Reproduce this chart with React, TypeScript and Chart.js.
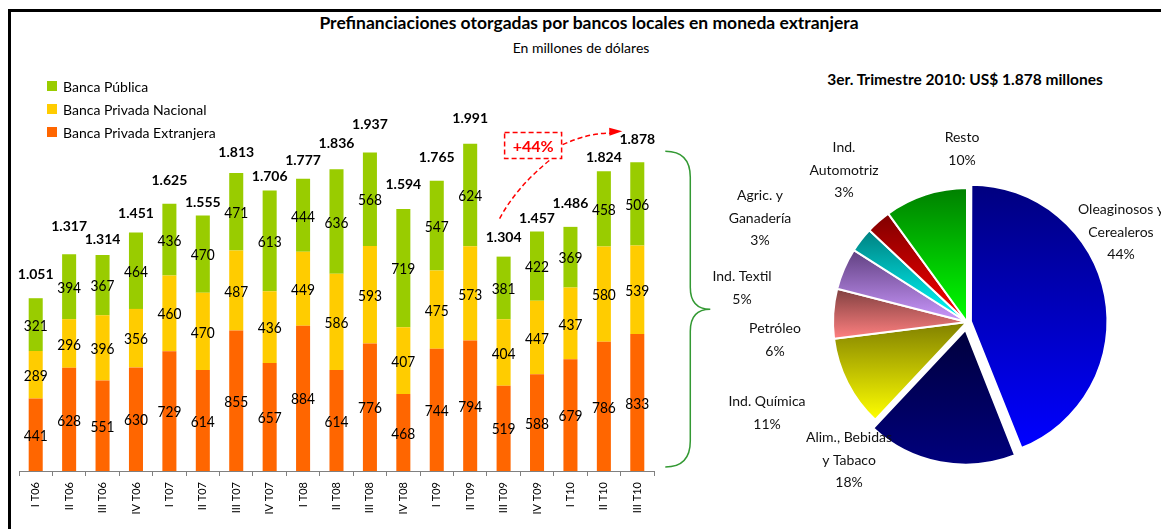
import { useEffect, useRef } from "react";
import { Chart, registerables } from "chart.js";
Chart.register(...registerables);

// ---------- Data ----------
const QUARTERS = [
  "I T06", "II T06", "III T06", "IV T06",
  "I T07", "II T07", "III T07", "IV T07",
  "I T08", "II T08", "III T08", "IV T08",
  "I T09", "II T09", "III T09", "IV T09",
  "I T10", "II T10", "III T10",
];
const EXTRANJERA = [441, 628, 551, 630, 729, 614, 855, 657, 884, 614, 776, 468, 744, 794, 519, 588, 679, 786, 833];
const NACIONAL = [289, 296, 396, 356, 460, 470, 487, 436, 449, 586, 593, 407, 475, 573, 404, 447, 437, 580, 539];
const PUBLICA = [321, 394, 367, 464, 436, 470, 471, 613, 444, 636, 568, 719, 547, 624, 381, 422, 369, 458, 506];
const TOTALS = [1051, 1317, 1314, 1451, 1625, 1555, 1813, 1706, 1777, 1836, 1937, 1594, 1765, 1991, 1304, 1457, 1486, 1824, 1878];

const PIE_SECTORS = [
  ["Oleaginosos y", "Cerealeros"],
  ["Alim., Bebidas", "y Tabaco"],
  ["Ind. Química"],
  ["Petróleo"],
  ["Ind. Textil"],
  ["Agric. y", "Ganadería"],
  ["Ind.", "Automotriz"],
  ["Resto"],
];
const PIE_SHARE = [44, 18, 11, 6, 5, 3, 3, 10];

// ---------- Layout / style (not data) ----------
const TOTAL_LABEL_LIFT = [24, 28, 15, 19, 23, 13, 20, 14, 18, 26, 28, 24, 23, 25, 19, 13, 23, 14, 23];
const PIE_DARK = ["#000080", "#000040", "#808000", "#804040", "#604080", "#008080", "#800000", "#008000"];
const PIE_LIGHT = ["#0000FF", "#000080", "#FFFF00", "#FF8080", "#CC99FF", "#00FFFF", "#FF0000", "#00FF00"];
const PIE_OFFSET = [16, 32, 0, 0, 0, 0, 0, 0];
const PIE_LABEL_POS = [
  [154, -90], [-118, 138], [-200, 91], [-192, 18], [-225, -34], [-207, -104], [-123, -152], [-5, -173],
];
const PIE_R = 134;
const FONT = "Lato, 'Open Sans', sans-serif";

const C_EXT = "#FF6600";
const C_NAC = "#FFCC00";
const C_PUB = "#99CC00";

const fmtTotal = (n: number) => (n / 1000).toFixed(3);

const squeezeText = (ctx: CanvasRenderingContext2D, s: string, x: number, y: number, sx: number) => {
  ctx.save();
  ctx.translate(x, y);
  ctx.scale(sx, 1);
  ctx.fillText(s, 0, 0);
  ctx.restore();
};

const barLabelsPlugin = {
  id: "barLabels",
  afterDatasetsDraw(chart: any) {
    const ctx = chart.ctx;
    ctx.save();
    ctx.textAlign = "center";
    ctx.textBaseline = "middle";
    ctx.fillStyle = "#000";
    ctx.font = `16px ${FONT}`;
    chart.data.datasets.forEach((ds: any, di: number) => {
      const meta = chart.getDatasetMeta(di);
      meta.data.forEach((bar: any, i: number) => {
        const { x, y, base } = bar.getProps(["x", "y", "base"], true);
        squeezeText(ctx, String(ds.data[i]), x, (y + base) / 2 + 1, 0.86);
      });
    });
    // totals
    const topMeta = chart.getDatasetMeta(chart.data.datasets.length - 1);
    ctx.font = `bold 14px ${FONT}`;
    topMeta.data.forEach((bar: any, i: number) => {
      const { x, y } = bar.getProps(["x", "y"], true);
      ctx.fillText(fmtTotal(TOTALS[i]), x, y - TOTAL_LABEL_LIFT[i]);
    });
    ctx.restore();
  },
  afterDraw(chart: any) {
    const ctx = chart.ctx;
    ctx.save();
    // legend
    const items = [...chart.data.datasets].reverse();
    ctx.font = `14px ${FONT}`;
    ctx.textBaseline = "middle";
    ctx.textAlign = "left";
    items.forEach((ds: any, k: number) => {
      const cy = 86 + k * 23;
      ctx.fillStyle = ds.backgroundColor;
      ctx.fillRect(47, cy - 5, 10, 10);
      ctx.fillStyle = "#000";
      ctx.fillText(ds.label, 63, cy + 1);
    });

    // brace around last bar
    const last = TOTALS.length - 1;
    const topMeta = chart.getDatasetMeta(chart.data.datasets.length - 1);
    const lb = topMeta.data[last];
    const x0 = lb.x + 28;
    const yTop = lb.y - 11;
    const yBot = chart.scales.y.getPixelForValue(0) - 4;
    const xl = x0 + 25;
    const xt = x0 + 45;
    const ym = (yTop + yBot) / 2;
    ctx.strokeStyle = "#339933";
    ctx.lineWidth = 1.5;
    ctx.beginPath();
    ctx.moveTo(x0, yTop);
    ctx.quadraticCurveTo(xl, yTop, xl, yTop + 26);
    ctx.lineTo(xl, ym - 22);
    ctx.quadraticCurveTo(xl, ym, xt, ym);
    ctx.quadraticCurveTo(xl, ym, xl, ym + 22);
    ctx.lineTo(xl, yBot - 26);
    ctx.quadraticCurveTo(xl, yBot, x0, yBot);
    ctx.stroke();

    // +44% annotation
    const b14 = topMeta.data[14];
    const b18 = topMeta.data[18];
    const p0x = b14.x - 4;
    const p0y = b14.y - TOTAL_LABEL_LIFT[14] - 19;
    const boxL = b14.x + 1, boxR = b14.x + 58;
    const boxT = p0y - 86, boxB = p0y - 60;
    ctx.strokeStyle = "#FF0000";
    ctx.fillStyle = "#FF0000";
    ctx.lineWidth = 1.5;
    ctx.setLineDash([5, 3]);
    ctx.strokeRect(boxL, boxT, boxR - boxL, boxB - boxT);
    ctx.beginPath();
    ctx.moveTo(p0x, p0y);
    ctx.quadraticCurveTo(b14.x + 13, p0y - 32, b14.x + 48, boxB);
    ctx.stroke();
    const tipX = b18.x - 15;
    const tipY = b18.y - TOTAL_LABEL_LIFT[18] - 8;
    const cX = (boxR + tipX) / 2 - 2, cY = tipY + 1;
    ctx.beginPath();
    ctx.moveTo(boxR + 1, (boxT + boxB) / 2 - 1);
    ctx.quadraticCurveTo(cX, cY, tipX - 10, tipY + 2);
    ctx.stroke();
    ctx.setLineDash([]);
    const ang = Math.atan2(tipY - cY, tipX - cX);
    ctx.beginPath();
    ctx.moveTo(tipX, tipY);
    ctx.lineTo(tipX - 13 * Math.cos(ang) + 4 * Math.sin(ang), tipY - 13 * Math.sin(ang) - 4 * Math.cos(ang));
    ctx.lineTo(tipX - 13 * Math.cos(ang) - 4 * Math.sin(ang), tipY - 13 * Math.sin(ang) + 4 * Math.cos(ang));
    ctx.closePath();
    ctx.fill();
    ctx.font = `bold 16px ${FONT}`;
    ctx.textAlign = "center";
    ctx.textBaseline = "middle";
    ctx.fillText("+44%", (boxL + boxR) / 2, (boxT + boxB) / 2 + 1);
    ctx.restore();
  },
};

const sliceFill = (c: any) => {
  const chart = c.chart;
  const i = c.dataIndex;
  const area = chart.chartArea;
  if (!area || i === undefined) return PIE_LIGHT[i ?? 0];
  const cy = (area.top + area.bottom) / 2;
  const total = PIE_SHARE.reduce((a, b) => a + b, 0);
  let cum = 0;
  for (let j = 0; j < i; j++) cum += PIE_SHARE[j];
  const a0 = -Math.PI / 2 + (cum / total) * Math.PI * 2;
  const a1 = a0 + (PIE_SHARE[i] / total) * Math.PI * 2;
  const mid = (a0 + a1) / 2;
  const t = PIE_OFFSET[i] / 4;
  const oy = cy + Math.sin(mid) * t;
  let minY = oy, maxY = oy;
  for (let k = 0; k <= 60; k++) {
    const a = a0 + ((a1 - a0) * k) / 60;
    const y = oy + Math.sin(a) * PIE_R;
    minY = Math.min(minY, y);
    maxY = Math.max(maxY, y);
  }
  const g = chart.ctx.createLinearGradient(0, minY, 0, maxY);
  g.addColorStop(0, PIE_DARK[i]);
  g.addColorStop(1, PIE_LIGHT[i]);
  return g;
};

const pieLabelsPlugin = {
  id: "pieLabels",
  afterDraw(chart: any) {
    const ctx = chart.ctx;
    const area = chart.chartArea;
    const cx = (area.left + area.right) / 2;
    const cy = (area.top + area.bottom) / 2;
    ctx.save();
    ctx.font = `14px ${FONT}`;
    ctx.fillStyle = "#111";
    ctx.textAlign = "center";
    ctx.textBaseline = "middle";
    PIE_SECTORS.forEach((name, i) => {
      const lines = [...name, `${PIE_SHARE[i]}%`];
      const lh = 22.5;
      const x = cx + PIE_LABEL_POS[i][0];
      const y0 = cy + PIE_LABEL_POS[i][1] - ((lines.length - 1) * lh) / 2;
      lines.forEach((ln, k) => ctx.fillText(ln, x, y0 + k * lh));
    });
    ctx.restore();
  },
};

export default function App() {
  const barRef = useRef<HTMLCanvasElement | null>(null);
  const pieRef = useRef<HTMLCanvasElement | null>(null);

  useEffect(() => {
    const bar = new Chart(barRef.current as HTMLCanvasElement, {
      type: "bar",
      data: {
        labels: QUARTERS,
        datasets: [
          { label: "Banca Privada Extranjera", data: EXTRANJERA, backgroundColor: C_EXT },
          { label: "Banca Privada Nacional", data: NACIONAL, backgroundColor: C_NAC },
          { label: "Banca Pública", data: PUBLICA, backgroundColor: C_PUB },
        ],
      },
      options: {
        responsive: false,
        animation: false,
        layout: { padding: { left: 19, right: 66, top: 60, bottom: 0 } },
        plugins: { legend: { display: false }, tooltip: { enabled: false }, title: { display: false } },
        datasets: { bar: { categoryPercentage: 1, barPercentage: 0.42 } },
        scales: {
          x: {
            stacked: true,
            offset: true,
            grid: { display: true, drawOnChartArea: false, drawTicks: true, tickLength: 5, color: "#808080", offset: true },
            border: { display: true, color: "#808080", width: 1 },
            ticks: { minRotation: 90, maxRotation: 90, autoSkip: false, color: "#000", padding: 6, font: { family: FONT, size: 11 } },
            afterFit: (s: any) => { s.height = 58; },
          },
          y: { stacked: true, display: false, min: 0, max: 2500 },
        },
      } as any,
      plugins: [barLabelsPlugin],
    });

    const pie = new Chart(pieRef.current as HTMLCanvasElement, {
      type: "pie",
      data: {
        labels: PIE_SECTORS.map((s) => s.join(" ")),
        datasets: [
          {
            data: PIE_SHARE,
            backgroundColor: sliceFill,
            borderColor: "#FFFFFF",
            borderWidth: 2,
            offset: PIE_OFFSET,
          },
        ],
      },
      options: {
        responsive: false,
        animation: false,
        radius: PIE_R,
        layout: { padding: { left: 73, top: 55, right: 0, bottom: 0 } },
        plugins: { legend: { display: false }, tooltip: { enabled: false } },
      } as any,
      plugins: [pieLabelsPlugin],
    });

    return () => {
      bar.destroy();
      pie.destroy();
    };
  }, []);

  const text = (content: string, x: number, y: number, style: any) => (
    <div
      style={{
        position: "absolute",
        left: x,
        top: y,
        transform: "translate(-50%, -50%)",
        whiteSpace: "nowrap",
        lineHeight: 1,
        fontFamily: FONT,
        color: "#000",
        ...style,
      }}
    >
      {content}
    </div>
  );

  return (
    <div style={{ position: "fixed", left: 0, top: 0, width: 1161, height: 529, overflow: "hidden", background: "#fff" }}>
      <div
        style={{
          position: "absolute",
          left: 8,
          top: 9,
          width: 1200,
          height: 600,
          borderTop: "3px solid #000",
          borderLeft: "3px solid #000",
        }}
      />
      {text("Prefinanciaciones otorgadas por bancos locales en moneda extranjera", 589, 23, { fontSize: 17.5, fontWeight: 700 })}
      {text("En millones de dólares", 581, 48, { fontSize: 14 })}
      {text("3er. Trimestre 2010: US$ 1.878 millones", 965, 80, { fontSize: 15.5, fontWeight: 700 })}
      <canvas ref={barRef} width={720} height={529} style={{ position: "absolute", left: 0, top: 0, width: 720, height: 529 }} />
      <canvas ref={pieRef} width={461} height={469} style={{ position: "absolute", left: 700, top: 60, width: 461, height: 469 }} />
    </div>
  );
}
